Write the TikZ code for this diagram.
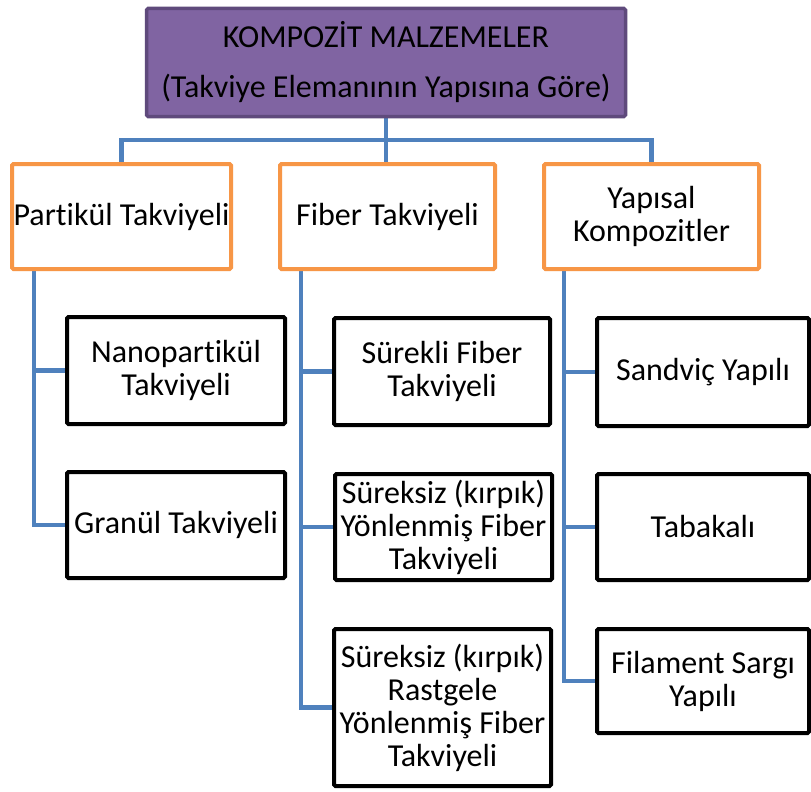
\documentclass[tikz,border=0pt]{standalone}
\usepackage{fontspec}
\setmainfont{Carlito}[Ligatures=NoCommon]
\usetikzlibrary{backgrounds,calc}
\definecolor{topfill}{HTML}{8064A2}
\definecolor{topborder}{HTML}{5F4A7C}
\definecolor{orangeb}{HTML}{F79646}
\definecolor{bluec}{HTML}{4F81BD}
\tikzset{
  base/.style={draw, line width=4pt, rounded corners=1.5pt, align=center, inner sep=0pt, fill=white,
    font=\fontsize{32}{33}\selectfont},
  topbox/.style={base, draw=topborder, line width=3.5pt, fill=topfill, font=\fontsize{32}{50}\selectfont},
  catbox/.style={base, draw=orangeb},
  subbox/.style={base, draw=black},
  conn/.style={draw=bluec, line width=4.8pt}
}
\begin{document}
\begin{tikzpicture}[x=1pt,y=-1pt]
\useasboundingbox (0,0) rectangle (811,792);

\node[topbox, minimum width=479pt, minimum height=108pt] (top) at (386,62.5)
  {KOMPOZİT MALZEMELER\\(Takviye Elemanının Yapısına Göre)};

\node[catbox, minimum width=219pt, minimum height=105pt] (part) at (121.5,216.5) {Partikül Takviyeli};
\node[catbox, minimum width=215pt, minimum height=105pt] (fib) at (387.5,216.5) {Fiber Takviyeli};
\node[catbox, minimum width=215pt, minimum height=105pt] (yap) at (651.5,216.5) {Yapısal\\Kompozitler};

\node[subbox, minimum width=218pt, minimum height=107pt] (nano) at (176,370.5) {Nanopartikül\\Takviyeli};
\node[subbox, minimum width=218pt, minimum height=106pt] (gran) at (176,525) {Granül Takviyeli};

\node[subbox, minimum width=216pt, minimum height=107pt] (surekli) at (442,371.5) {Sürekli Fiber\\Takviyeli};
\node[subbox, minimum width=217pt, minimum height=106pt] (sury) at (443.5,527) {Süreksiz (kırpık)\\Yönlenmiş Fiber\\Takviyeli};
\node[subbox, minimum width=217pt, minimum height=157pt] (surr) at (442.5,707.5) {Süreksiz (kırpık)\\Rastgele\\Yönlenmiş Fiber\\Takviyeli};

\node[subbox, minimum width=212pt, minimum height=108pt] (sand) at (703,372) {Sandviç Yapılı};
\node[subbox, minimum width=212pt, minimum height=106pt] (tab) at (703,527) {Tabakalı};
\node[subbox, minimum width=212pt, minimum height=104pt] (fil) at (703,681) {Filament Sargı\\Yapılı};

\coordinate (bus) at (386,140);
\coordinate (lc) at ($(part.south west)+(24,0)$);
\coordinate (mc) at ($(fib.south west)+(23,0)$);
\coordinate (rc) at ($(yap.south west)+(22,0)$);

\begin{pgfonlayer}{background}
\fill[white] (0,0) rectangle (811,792);
\draw[conn] (top.south) -- (top.south |- fib.north);
\draw[conn] (part.north) |- (bus) -| (yap.north);
\draw[conn] (lc) |- (nano.west);
\draw[conn] (lc) |- (gran.west);
\draw[conn] (mc) |- (surekli.west);
\draw[conn] (mc) |- (sury.west);
\draw[conn] (mc) |- (surr.west);
\draw[conn] (rc) |- (sand.west);
\draw[conn] (rc) |- (tab.west);
\draw[conn] (rc) |- (fil.west);
\end{pgfonlayer}
\end{tikzpicture}
\end{document}
